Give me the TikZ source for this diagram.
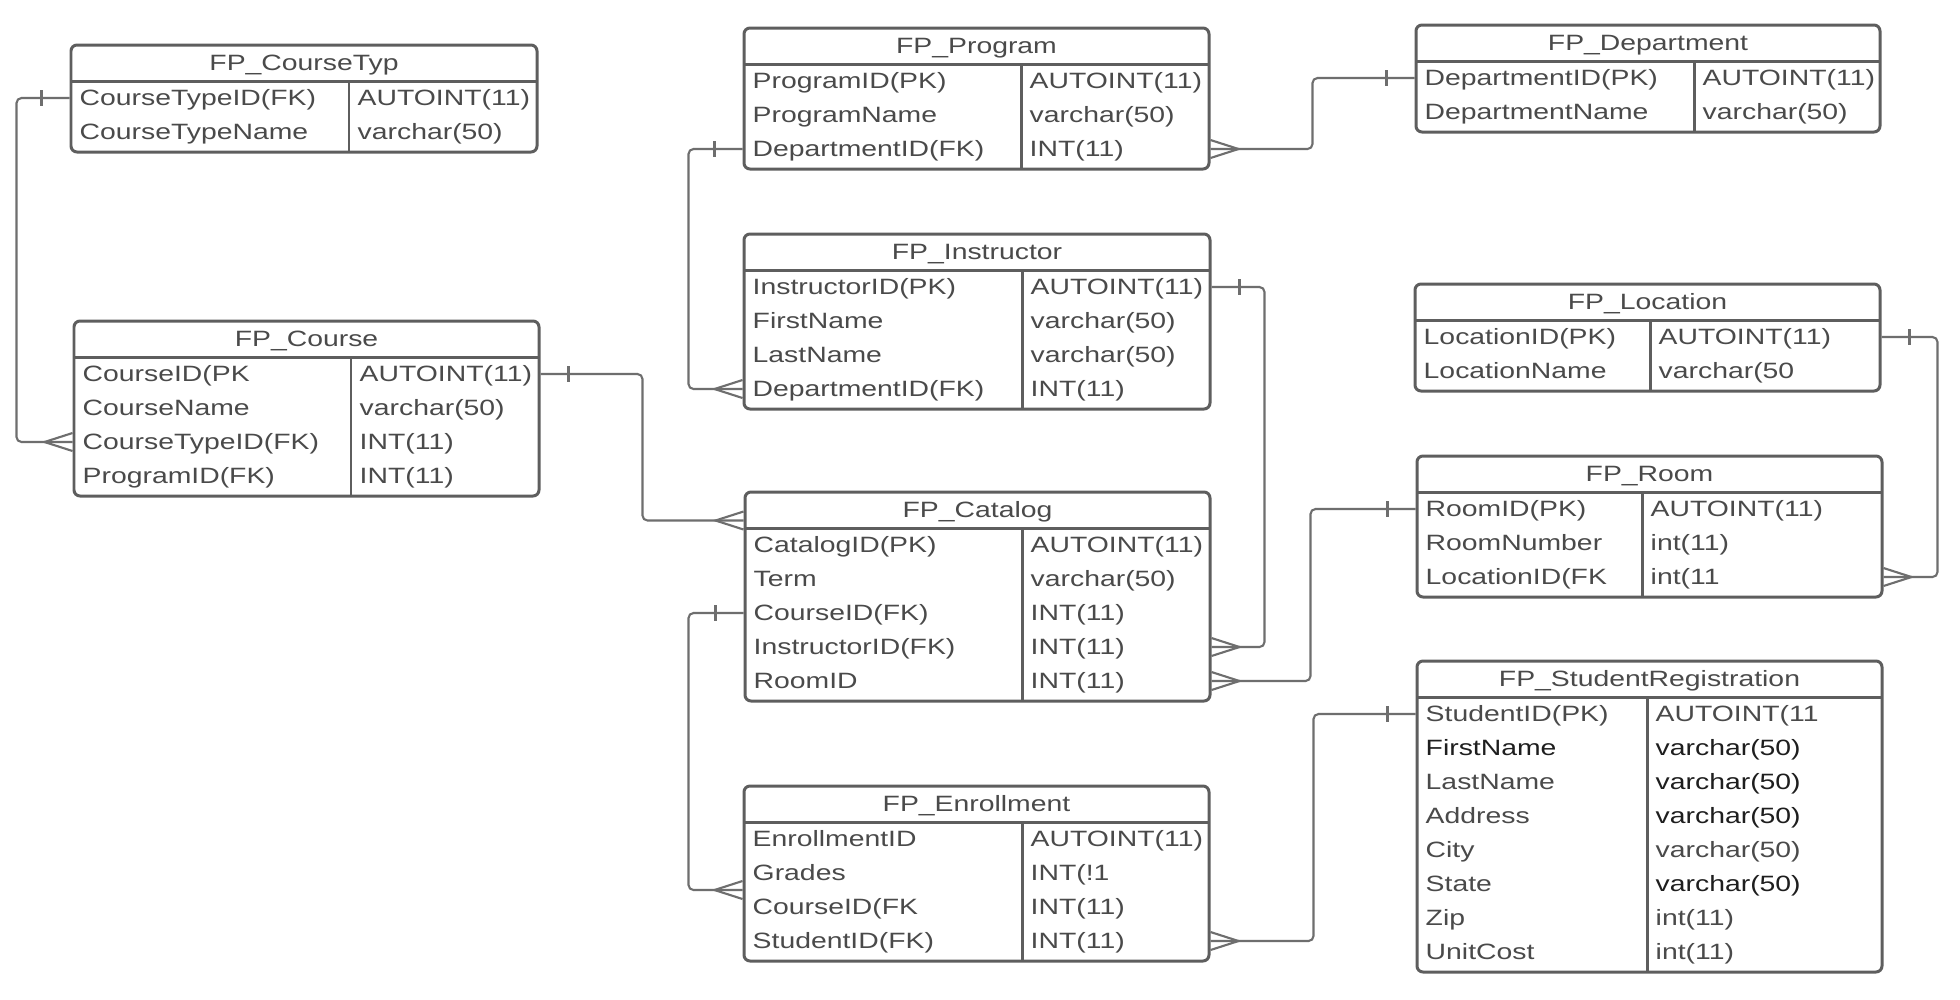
\documentclass[tikz,border=0pt]{standalone}
\usepackage{fontspec}
\setmainfont{Liberation Sans}[FakeStretch=1.28]
\usetikzlibrary{fit,calc}
\definecolor{boxline}{HTML}{5E5E5E}
\definecolor{connline}{HTML}{6E6E6E}
\definecolor{txt}{HTML}{4A4A4A}
\definecolor{txtdark}{HTML}{1E1E1E}
\tikzset{
  tablebox/.style={draw=boxline, line width=0.85pt, rounded corners=0.06cm, inner sep=0pt},
  tabline/.style={draw=boxline, line width=0.85pt},
  titletext/.style={font=\fontsize{6.3pt}{7pt}\selectfont, text=txt, inner sep=0pt, text height=4.5pt, text depth=0pt},
  cell/.style={font=\fontsize{6.3pt}{7pt}\selectfont, text=txt, inner sep=0pt, anchor=west, text height=4.5pt, text depth=0pt},
  conn/.style={draw=connline, line width=0.6pt, rounded corners=0.05cm},
  mk/.style={draw=connline, line width=0.6pt},
}
\newcommand\erdtable[7]{%
  \gdef\tbn{0}%
  \foreach \fa/\ty [count=\i] in {#7} {\xdef\tbn{\i}}%
  \pgfmathsetmacro\tbbot{#3+39+34*\tbn}%
  \pgfmathsetmacro\tbhl{#3+36}%
  \node[tablebox, fit={(#2,#3) (#4,\tbbot)}] (#1) {};
  \node[titletext] (#1-title) at ({(#2+#4)/2},{#3+18}) {#6};
  \draw[tabline] (#2,\tbhl) -- (#4,\tbhl);
  \draw[tabline] (#5,\tbhl) -- (#5,\tbbot);
  \foreach \fa/\ty [count=\i] in {#7} {
    \node[cell] (#1-f\i) at (#2+8,{#3+19+34*\i}) {\fa};
    \node[cell] (#1-t\i) at (#5+8,{#3+19+34*\i}) {\ty};
  }%
}
\newcommand\tickmark[2]{\draw[mk] ($(#1)+(#2*28,-8)$) -- ($(#1)+(#2*28,8)$);}
\newcommand\crowmark[2]{\draw[mk] ($(#1)+(0,-9)$) -- ($(#1)+(#2*28,0)$) -- ($(#1)+(0,9)$);}
\begin{document}
\begin{tikzpicture}[x=0.01cm, y=-0.01cm]
\useasboundingbox (0,0) rectangle (1960,999);
\fill[white] (0,0) rectangle (1960,999);

\erdtable{ctyp}{71}{45}{537}{349}{FP\_CourseTyp}{CourseTypeID(FK)/AUTOINT(11), CourseTypeName/varchar(50)}
\erdtable{course}{74}{321}{539}{351}{FP\_Course}{CourseID(PK/AUTOINT(11), CourseName/varchar(50), CourseTypeID(FK)/INT(11), ProgramID(FK)/INT(11)}
\erdtable{prog}{744}{28}{1209}{1021}{FP\_Program}{ProgramID(PK)/AUTOINT(11), ProgramName/varchar(50), DepartmentID(FK)/INT(11)}
\erdtable{instr}{744}{234}{1210}{1022}{FP\_Instructor}{InstructorID(PK)/AUTOINT(11), FirstName/varchar(50), LastName/varchar(50), DepartmentID(FK)/INT(11)}
\erdtable{cat}{745}{492}{1210}{1022}{FP\_Catalog}{CatalogID(PK)/AUTOINT(11), Term/varchar(50), CourseID(FK)/INT(11), InstructorID(FK)/INT(11), RoomID/INT(11)}
\erdtable{enr}{744}{786}{1209}{1022}{FP\_Enrollment}{EnrollmentID/AUTOINT(11), Grades/INT(!1, CourseID(FK/INT(11), StudentID(FK)/INT(11)}
\erdtable{dept}{1416}{25}{1880}{1694}{FP\_Department}{DepartmentID(PK)/AUTOINT(11), DepartmentName/varchar(50)}
\erdtable{loc}{1415}{284}{1880}{1650}{FP\_Location}{LocationID(PK)/AUTOINT(11), LocationName/varchar(50}
\erdtable{room}{1417}{456}{1882}{1642}{FP\_Room}{RoomID(PK)/AUTOINT(11), RoomNumber/int(11), LocationID(FK/int(11}
\erdtable{stu}{1417}{661}{1882}{1647}{FP\_StudentRegistration}{StudentID(PK)/AUTOINT(11, {\color{txtdark}FirstName}/{\color{txtdark}varchar(50)}, LastName/{\color{txtdark}varchar(50)}, Address/{\color{txtdark}varchar(50)}, City/varchar(50), State/{\color{txtdark}varchar(50)}, Zip/int(11), UnitCost/int(11)}

% connection points
\coordinate (a1) at (ctyp.west |- ctyp-f1);
\coordinate (b1) at (course.west |- course-f3);
\coordinate (a2) at (course.east |- course-f1);
\coordinate (b2) at ($(cat.north west)+(0,30)$);
\coordinate (a3) at (prog.west |- prog-f3);
\coordinate (b3) at (instr.west |- instr-f4);
\coordinate (a4) at (prog.east |- prog-f3);
\coordinate (b4) at (dept.west |- dept-f1);
\coordinate (a5) at (instr.east |- instr-f1);
\coordinate (b5) at (cat.east |- cat-f4);
\coordinate (a6) at (loc.east |- loc-f1);
\coordinate (b6) at (room.east |- room-f3);
\coordinate (a7) at (room.west |- room-f1);
\coordinate (b7) at (cat.east |- cat-f5);
\coordinate (a8) at (cat.west |- cat-f3);
\path (enr-f2) -- (enr-f3) coordinate[pos=0.5] (e23);
\coordinate (b8) at (enr.west |- e23);
\coordinate (a9) at (enr.east |- enr-f4);
\coordinate (b9) at (stu.west |- stu-f1);

% connectors
\draw[conn] (a1) -- ++(-53,0) |- (b1);
\draw[conn] (a2) -- ++(102,0) |- (b2);
\draw[conn] (a3) -- ++(-54,0) |- (b3);
\draw[conn] (a4) -- ++(102,0) |- (b4);
\draw[conn] (a5) -- ++(53,0) |- (b5);
\draw[conn] (a6) -- ++(56,0) |- (b6);
\draw[conn] (a7) -- ++(-105,0) |- (b7);
\draw[conn] (a8) -- ++(-55,0) |- (b8);
\draw[conn] (a9) -- ++(103,0) |- (b9);

% cardinality marks
\tickmark{a1}{-1} \crowmark{b1}{-1}
\tickmark{a2}{1}  \crowmark{b2}{-1}
\tickmark{a3}{-1} \crowmark{b3}{-1}
\crowmark{a4}{1}  \tickmark{b4}{-1}
\tickmark{a5}{1}  \crowmark{b5}{1}
\tickmark{a6}{1}  \crowmark{b6}{1}
\tickmark{a7}{-1} \crowmark{b7}{1}
\tickmark{a8}{-1} \crowmark{b8}{-1}
\crowmark{a9}{1}  \tickmark{b9}{-1}
\end{tikzpicture}
\end{document}
